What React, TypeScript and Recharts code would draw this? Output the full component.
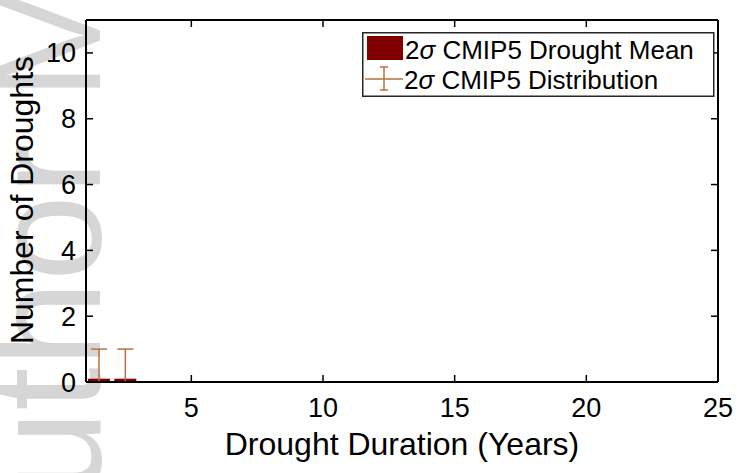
import React from 'react';
import { ComposedChart, Bar, ErrorBar, XAxis, YAxis, Legend, Label } from 'recharts';

const durations = [1.5, 2.5];
const meanCounts = [0.1, 0.1];
const distLower = [0, 0];
const distUpper = [1, 1];
const xTicks = [5, 10, 15, 20, 25];
const yTicks = [0, 2, 4, 6, 8, 10];

const data = durations.map((d, i) => ({
  x: d,
  mean: meanCounts[i],
  err: [meanCounts[i] - distLower[i], distUpper[i] - meanCounts[i]],
}));

const FONT = '"Liberation Sans", Arial, Helvetica, sans-serif';
const BAR = '#800000';
const ERR = '#b8703f';

const BottomTick = (p: any) => (
  <g>
    <line x1={p.x} y1={p.y} x2={p.x} y2={p.y - 7} stroke="#000" strokeWidth={1.5} />
    <text x={p.x} y={p.y + 35} textAnchor="middle" fontSize={27} fontFamily={FONT} fill="#000">
      {p.payload.value}
    </text>
  </g>
);
const TopTick = (p: any) => (
  <line x1={p.x} y1={p.y} x2={p.x} y2={p.y + 7} stroke="#000" strokeWidth={1.5} />
);
const LeftTick = (p: any) => (
  <g>
    <line x1={p.x} y1={p.y} x2={p.x + 7} y2={p.y} stroke="#000" strokeWidth={1.5} />
    <text x={p.x - 10} y={p.y + 9.5} textAnchor="end" fontSize={27} fontFamily={FONT} fill="#000">
      {p.payload.value}
    </text>
  </g>
);
const RightTick = (p: any) => (
  <line x1={p.x} y1={p.y} x2={p.x - 7} y2={p.y} stroke="#000" strokeWidth={1.5} />
);

const LegendBox = () => (
  <svg width={354} height={66} style={{ display: 'block' }}>
    <rect x={0.75} y={0.75} width={351} height={63.5} fill="#fff" stroke="#262626" strokeWidth={1.5} />
    <rect x={5} y={4} width={36} height={24} fill={BAR} />
    <text x={43} y={27} fontSize={26} fontFamily={FONT} fill="#000">
      2<tspan fontStyle="italic">σ</tspan> CMIP5 Drought Mean
    </text>
    <line x1={3} y1={47} x2={41} y2={47} stroke={ERR} strokeWidth={1.5} />
    <line x1={22} y1={35} x2={22} y2={58} stroke={ERR} strokeWidth={1.5} />
    <line x1={18} y1={35} x2={26} y2={35} stroke={ERR} strokeWidth={1.5} />
    <line x1={18} y1={58} x2={26} y2={58} stroke={ERR} strokeWidth={1.5} />
    <text x={42} y={57} fontSize={26} fontFamily={FONT} fill="#000">
      2<tspan fontStyle="italic">σ</tspan> CMIP5 Distribution
    </text>
  </svg>
);

export default function App() {
  return (
    <div style={{ position: 'absolute', left: 0, top: 0, width: 741, height: 473, background: '#fff', overflow: 'hidden' }}>
      <svg width={741} height={473} style={{ position: 'absolute', left: 0, top: 0 }}>
        <text
          transform="translate(100,600) rotate(-90)"
          fontSize={155}
          fontFamily={FONT}
          fill="#d6d6d6"
        >
          Author Manuscript
        </text>
      </svg>
      <div style={{ position: 'absolute', left: 0, top: 0 }}>
        <ComposedChart
          width={741}
          height={473}
          data={data}
          margin={{ top: 19, right: 22, bottom: 31, left: 26 }}
        >
          <XAxis
            xAxisId="b"
            dataKey="x"
            type="number"
            domain={[1, 25]}
            ticks={xTicks}
            allowDataOverflow
            height={60}
            tickSize={0}
            tickMargin={0}
            tickLine={false}
            axisLine={{ stroke: '#000', strokeWidth: 2 }}
            tick={<BottomTick />}
            interval={0}
          >
            <Label
              content={() => (
                <text x={402} y={455} textAnchor="middle" fontSize={32} fontFamily={FONT} fill="#000">
                  Drought Duration (Years)
                </text>
              )}
            />
          </XAxis>
          <XAxis
            xAxisId="t"
            orientation="top"
            dataKey="x"
            type="number"
            domain={[1, 25]}
            ticks={xTicks}
            allowDataOverflow
            height={1}
            tickSize={0}
            tickMargin={0}
            tickLine={false}
            axisLine={{ stroke: '#000', strokeWidth: 2 }}
            tick={<TopTick />}
            interval={0}
          />
          <YAxis
            yAxisId="l"
            type="number"
            domain={[0, 11]}
            ticks={yTicks}
            allowDataOverflow
            width={60}
            tickSize={0}
            tickMargin={0}
            tickLine={false}
            axisLine={{ stroke: '#000', strokeWidth: 2 }}
            tick={<LeftTick />}
            interval={0}
          >
            <Label
              content={() => (
                <text
                  x={33}
                  y={200}
                  transform="rotate(-90, 33, 200)"
                  textAnchor="middle"
                  fontSize={32}
                  fontFamily={FONT}
                  fill="#000"
                >
                  Number of Droughts
                </text>
              )}
            />
          </YAxis>
          <YAxis
            yAxisId="r"
            orientation="right"
            type="number"
            domain={[0, 11]}
            ticks={yTicks}
            allowDataOverflow
            width={1}
            tickSize={0}
            tickMargin={0}
            tickLine={false}
            axisLine={{ stroke: '#000', strokeWidth: 2 }}
            tick={<RightTick />}
            interval={0}
          />
          <Bar
            xAxisId="b"
            yAxisId="l"
            dataKey="mean"
            fill={BAR}
            barSize={22}
            isAnimationActive={false}
            name="2σ CMIP5 Drought Mean"
          >
            <ErrorBar dataKey="err" width={8} stroke={ERR} strokeWidth={1.5} direction="y" />
          </Bar>
          <Legend
            layout="horizontal"
            verticalAlign="middle"
            align="center"
            content={() => <LegendBox />}
            wrapperStyle={{ position: 'absolute', left: 362, top: 32, width: 354, height: 66 }}
          />
        </ComposedChart>
      </div>
    </div>
  );
}
